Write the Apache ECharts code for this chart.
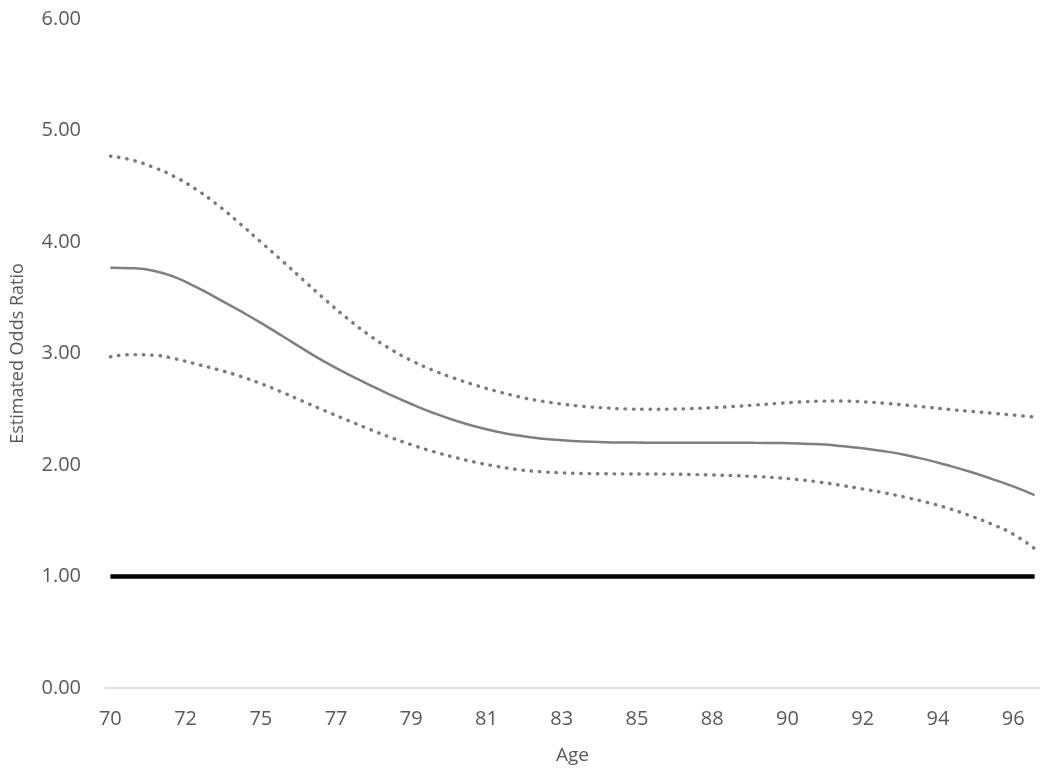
<!DOCTYPE html>
<html>
<head>
<meta charset="utf-8">
<script src="https://cdn.jsdelivr.net/npm/echarts@6/dist/echarts.min.js"></script>
<style>
  html, body { margin: 0; padding: 0; background: #ffffff; }
  #chart { width: 1050px; height: 779px; }
</style>
</head>
<body>
<div id="chart"></div>
<script>
// ---- data ----
const categoryCount = 87;           // number of age points on the category axis
const labelEvery = 7;               // an age label on every 7th point
const xTickLabels = ['70', '72', '75', '77', '79', '81', '83', '85', '88', '90', '92', '94', '96'];
const yTickLabels = ['0.00', '1.00', '2.00', '3.00', '4.00', '5.00', '6.00'];

// curves were read at every 2nd age point (category index 0, 2, ..., 86)
const sampleStep = 2;

const estimateOR = [3.77, 3.765, 3.742, 3.685, 3.595, 3.493, 3.386, 3.275, 3.157, 3.037, 2.922, 2.82, 2.724, 2.632, 2.547, 2.469, 2.401, 2.345, 2.299, 2.264, 2.238, 2.222, 2.211, 2.205, 2.202, 2.20, 2.20, 2.20, 2.20, 2.20, 2.199, 2.197, 2.193, 2.185, 2.17, 2.15, 2.124, 2.09, 2.046, 1.995, 1.939, 1.876, 1.808, 1.73];
const upperCI    = [4.77, 4.735, 4.67, 4.585, 4.47, 4.33, 4.17, 4.00, 3.83, 3.655, 3.482, 3.318, 3.17, 3.043, 2.937, 2.85, 2.778, 2.715, 2.66, 2.612, 2.575, 2.547, 2.526, 2.512, 2.503, 2.50, 2.501, 2.506, 2.514, 2.525, 2.538, 2.552, 2.564, 2.572, 2.574, 2.567, 2.554, 2.537, 2.518, 2.499, 2.482, 2.465, 2.448, 2.43];
const lowerCI    = [2.97, 2.99, 2.985, 2.953, 2.905, 2.855, 2.798, 2.73, 2.652, 2.568, 2.485, 2.404, 2.325, 2.25, 2.182, 2.122, 2.07, 2.024, 1.987, 1.958, 1.94, 1.93, 1.924, 1.921, 1.92, 1.919, 1.918, 1.915, 1.911, 1.905, 1.897, 1.886, 1.869, 1.846, 1.817, 1.785, 1.75, 1.71, 1.664, 1.61, 1.545, 1.47, 1.38, 1.25];
const referenceOR = 1.00;

// ---- build library inputs ----
const categories = Array.from({ length: categoryCount }, (_, i) => String(i));
function expand(vals) {
  const arr = new Array(categoryCount).fill(null);
  vals.forEach((v, j) => { arr[j * sampleStep] = v; });
  return arr;
}
const referenceData = new Array(categoryCount).fill(referenceOR);

const FONT = '"Open Sans", "Liberation Sans", sans-serif';
const TXT = '#595959';
const LINE = '#7f7f7f';
const DOTS = { color: '#7a7a7a', width: 3.4, type: [0.5, 7.8], cap: 'round' };

const chart = echarts.init(document.getElementById('chart'), null, { renderer: 'canvas' });
chart.setOption({
  animation: false,
  backgroundColor: '#ffffff',
  grid: { left: 105, right: 10, top: 19, bottom: 91, containLabel: false, outerBoundsMode: 'none' },
  xAxis: {
    type: 'category',
    data: categories,
    boundaryGap: true,
    name: 'Age',
    nameLocation: 'middle',
    nameGap: 58,
    nameTextStyle: { color: TXT, fontFamily: FONT, fontSize: 19 },
    axisLine: { show: true, lineStyle: { color: '#d9d9d9', width: 1.5 } },
    axisTick: { show: false },
    splitLine: { show: false },
    axisLabel: {
      interval: (index) => index % labelEvery === 0,
      formatter: (value, index) => xTickLabels[index / labelEvery] || '',
      color: TXT, fontFamily: FONT, fontSize: 20, margin: 21
    }
  },
  yAxis: {
    type: 'value',
    min: 0, max: 6, interval: 1,
    name: 'Estimated Odds Ratio',
    nameLocation: 'middle',
    nameGap: 78,
    nameTextStyle: { color: TXT, fontFamily: FONT, fontSize: 18 },
    axisLine: { show: false },
    axisTick: { show: false },
    splitLine: { show: false },
    axisLabel: {
      formatter: (v) => yTickLabels[Math.round(v)] || v.toFixed(2),
      color: TXT, fontFamily: FONT, fontSize: 20, margin: 24
    }
  },
  series: [
    {
      name: 'Reference', type: 'line', data: referenceData, symbol: 'none',
      lineStyle: { color: '#000000', width: 4.3 }, z: 1
    },
    {
      name: 'Upper 95% CI', type: 'line', data: expand(upperCI), connectNulls: true, smooth: 0.5, symbol: 'none',
      lineStyle: DOTS, z: 2
    },
    {
      name: 'Estimated OR', type: 'line', data: expand(estimateOR), connectNulls: true, smooth: 0.5, symbol: 'none',
      lineStyle: { color: LINE, width: 2.5 }, z: 3
    },
    {
      name: 'Lower 95% CI', type: 'line', data: expand(lowerCI), connectNulls: true, smooth: 0.5, symbol: 'none',
      lineStyle: DOTS, z: 2
    }
  ]
});
</script>
</body>
</html>
